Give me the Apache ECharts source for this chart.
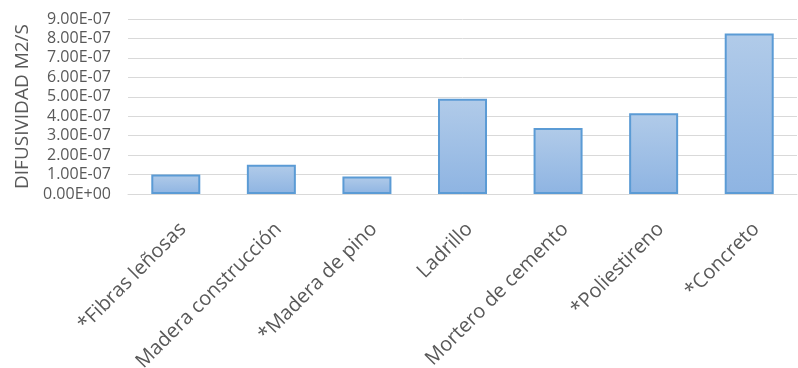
<!DOCTYPE html>
<html>
<head>
<meta charset="utf-8">
<script src="https://cdn.jsdelivr.net/npm/echarts@6/dist/echarts.min.js"></script>
<style>
  html, body { margin: 0; padding: 0; background: #fff; }
  #chart { width: 798px; height: 368px; }
</style>
</head>
<body>
<div id="chart"></div>
<script>
// Thermal diffusivity of building materials (m2/s)
const categories = [
  '*Fibras leñosas',
  'Madera construcción',
  '*Madera de pino',
  'Ladrillo',
  'Mortero de cemento',
  '*Poliestireno',
  '*Concreto'
];
const diffusivity = [1.0e-7, 1.5e-7, 0.9e-7, 4.9e-7, 3.4e-7, 4.15e-7, 8.25e-7];
const yAxisTitle = 'DIFUSIVIDAD M2/S';

// Excel-style scientific notation: 9.00E-07, 0.00E+00
function sci(v) {
  if (Math.abs(v) < 1e-20) return '0.00E+00';
  const parts = v.toExponential(2).split('e');
  const exp = parseInt(parts[1], 10);
  const sign = exp < 0 ? '-' : '+';
  const abs = Math.abs(exp);
  return parts[0] + 'E' + sign + (abs < 10 ? '0' + abs : String(abs));
}

const chart = echarts.init(document.getElementById('chart'), null, { renderer: 'canvas' });
const font = 'Open Sans';
chart.setOption({
  animation: false,
  grid: {
    left: 128, right: 1, top: 19, bottom: 174,
    containLabel: false,
    outerBoundsMode: 'none'
  },
  xAxis: {
    type: 'category',
    data: categories,
    axisLine: { show: true, lineStyle: { color: '#d9d9d9', width: 1 } },
    axisTick: { show: false },
    axisLabel: {
      rotate: 45,
      interval: 0,
      margin: 25,
      verticalAlign: 'top',
      color: '#595959',
      fontFamily: font,
      fontSize: 20
    }
  },
  yAxis: {
    type: 'value',
    min: 0,
    max: 9e-7,
    interval: 1e-7,
    name: yAxisTitle,
    nameLocation: 'middle',
    nameGap: 92,
    nameRotate: 90,
    nameTextStyle: { color: '#595959', fontFamily: font, fontSize: 19 },
    axisLine: { show: false },
    axisTick: { show: false },
    splitLine: { lineStyle: { color: '#d9d9d9', width: 1 } },
    axisLabel: {
      formatter: sci,
      color: '#595959',
      fontFamily: font,
      fontSize: 16,
      margin: 17
    }
  },
  series: [{
    type: 'bar',
    data: diffusivity,
    barWidth: 49,
    itemStyle: {
      color: new echarts.graphic.LinearGradient(0, 0, 0, 1, [
        { offset: 0, color: '#b1cbe9' },
        { offset: 1, color: '#8eb4e2' }
      ]),
      borderColor: '#5b9bd5',
      borderWidth: 2
    }
  }]
});
</script>
</body>
</html>
